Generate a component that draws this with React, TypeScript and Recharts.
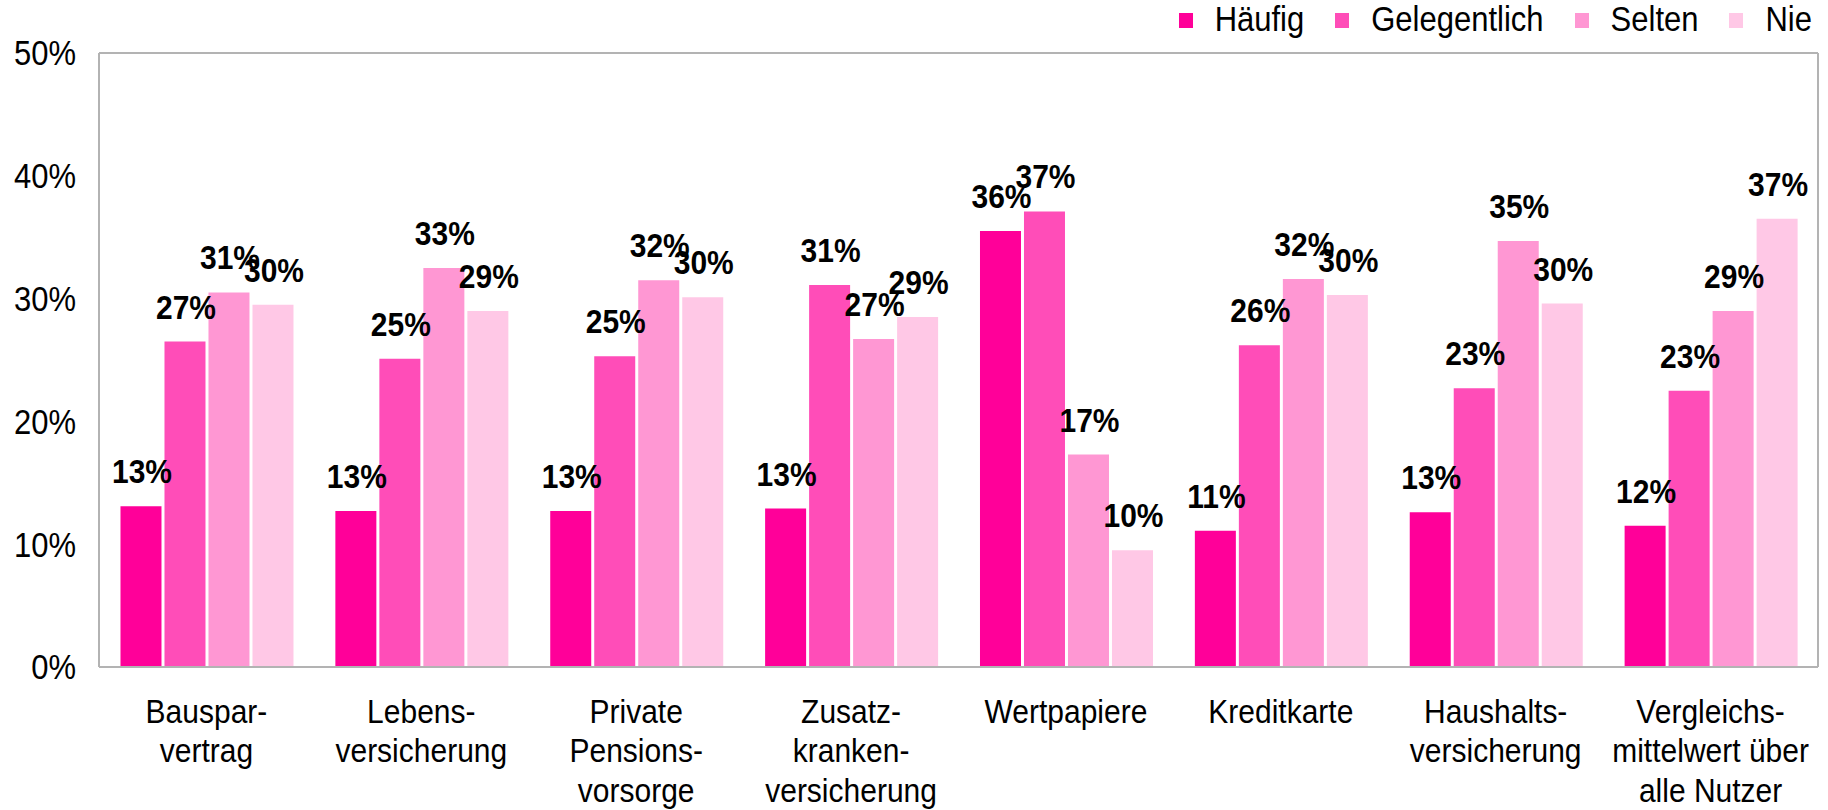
import React from 'react';
import { BarChart, Bar, XAxis, YAxis, CartesianGrid, LabelList, Legend } from 'recharts';

const categories = [
  'Bauspar-\nvertrag',
  'Lebens-\nversicherung',
  'Private\nPensions-\nvorsorge',
  'Zusatz-\nkranken-\nversicherung',
  'Wertpapiere',
  'Kreditkarte',
  'Haushalts-\nversicherung',
  'Vergleichs-\nmittelwert über\nalle Nutzer',
];
const haeufig = [13.1, 12.7, 12.7, 12.9, 35.5, 11.1, 12.6, 11.5];
const gelegentlich = [26.5, 25.1, 25.3, 31.1, 37.1, 26.2, 22.7, 22.5];
const selten = [30.5, 32.5, 31.5, 26.7, 17.3, 31.6, 34.7, 29.0];
const nie = [29.5, 29.0, 30.1, 28.5, 9.5, 30.3, 29.6, 36.5];
const seriesKeys = ['haeufig', 'gelegentlich', 'selten', 'nie'];
const seriesNames = ['Häufig', 'Gelegentlich', 'Selten', 'Nie'];
const seriesColors = ['#FF0099', '#FF4DB8', '#FF97D3', '#FFC8E6'];
const yTicks = [0, 10, 20, 30, 40, 50];

const data = categories.map((name, i) => ({
  name,
  haeufig: haeufig[i],
  gelegentlich: gelegentlich[i],
  selten: selten[i],
  nie: nie[i],
}));

const FONT = '"Liberation Sans", Arial, sans-serif';
const GRID = '#B3B3B3';
const SY = 1.12;

const XTick = (props: any) => {
  const { x, y, payload } = props;
  const lines = String(payload.value).split('\n');
  return (
    <g transform={`translate(${x},${y}) scale(1,${SY})`}>
      <text x={0} y={0} textAnchor="middle" fontSize={30} fontFamily={FONT} fill="#000">
        {lines.map((l, i) => (
          <tspan key={i} x={0} dy={i === 0 ? 56 / SY : 39.5 / SY}>
            {l}
          </tspan>
        ))}
      </text>
    </g>
  );
};

const YTick = (props: any) => {
  const { x, y, payload } = props;
  return (
    <g transform={`translate(${x},${y + 11 * SY}) scale(1,${SY})`}>
      <text x={0} y={0} textAnchor="end" fontSize={31} fontFamily={FONT} fill="#000">
        {`${payload.value}%`}
      </text>
    </g>
  );
};

const renderLabel = (props: any) => {
  const { x, y, width, value } = props;
  const cx = Number(x) + Number(width) / 2 + 1;
  const cy = Number(y) - 23;
  return (
    <g transform={`translate(${cx},${cy}) scale(1,${SY})`}>
      <text x={0} y={0} textAnchor="middle" fontSize={30} fontWeight="bold" fontFamily={FONT} fill="#000">
        {Math.round(Number(value))}%
      </text>
    </g>
  );
};

const LegendContent = () => (
  <div style={{ display: 'flex', alignItems: 'center', fontFamily: FONT, fontSize: 31, color: '#000' }}>
    {seriesNames.map((n, i) => (
      <div key={n} style={{ display: 'flex', alignItems: 'center', marginLeft: i === 0 ? 0 : 31 }}>
        <div style={{ width: 14, height: 15, background: seriesColors[i], marginRight: 22 }} />
        <span style={{ lineHeight: '38px', display: 'inline-block', transform: `scaleY(${SY})` }}>{n}</span>
      </div>
    ))}
  </div>
);

export default function App() {
  return (
    <div style={{ position: 'absolute', left: 0, top: 0, width: 1828, height: 810, background: '#fff' }}>
      <BarChart
        width={1828}
        height={810}
        data={data}
        margin={{ top: 53, right: 0, left: 0, bottom: 0 }}
        barCategoryGap="10%"
        barGap={3}
      >
        <CartesianGrid vertical={false} stroke={GRID} strokeWidth={2} />
        <XAxis
          dataKey="name"
          height={143}
          tick={<XTick />}
          tickLine={false}
          tickSize={0}
          tickMargin={0}
          interval={0}
          axisLine={{ stroke: GRID, strokeWidth: 2 }}
        />
        <YAxis
          yAxisId="left"
          width={99}
          domain={[0, 50]}
          ticks={yTicks}
          tick={<YTick />}
          tickLine={false}
          tickSize={0}
          tickMargin={23}
          axisLine={{ stroke: GRID, strokeWidth: 2 }}
        />
        <YAxis
          yAxisId="right"
          orientation="right"
          width={10}
          domain={[0, 50]}
          ticks={yTicks}
          tick={false}
          tickLine={false}
          axisLine={{ stroke: GRID, strokeWidth: 2 }}
        />
        <Legend
          verticalAlign="middle"
          align="center"
          layout="horizontal"
          content={<LegendContent />}
          wrapperStyle={{ position: 'absolute', top: 1, right: 16, left: 'auto', width: 'auto' }}
        />
        {seriesKeys.map((k, i) => (
          <Bar
            key={k}
            yAxisId="left"
            dataKey={k}
            name={seriesNames[i]}
            fill={seriesColors[i]}
            isAnimationActive={false}
          >
            <LabelList dataKey={k} content={renderLabel} />
          </Bar>
        ))}
      </BarChart>
    </div>
  );
}
